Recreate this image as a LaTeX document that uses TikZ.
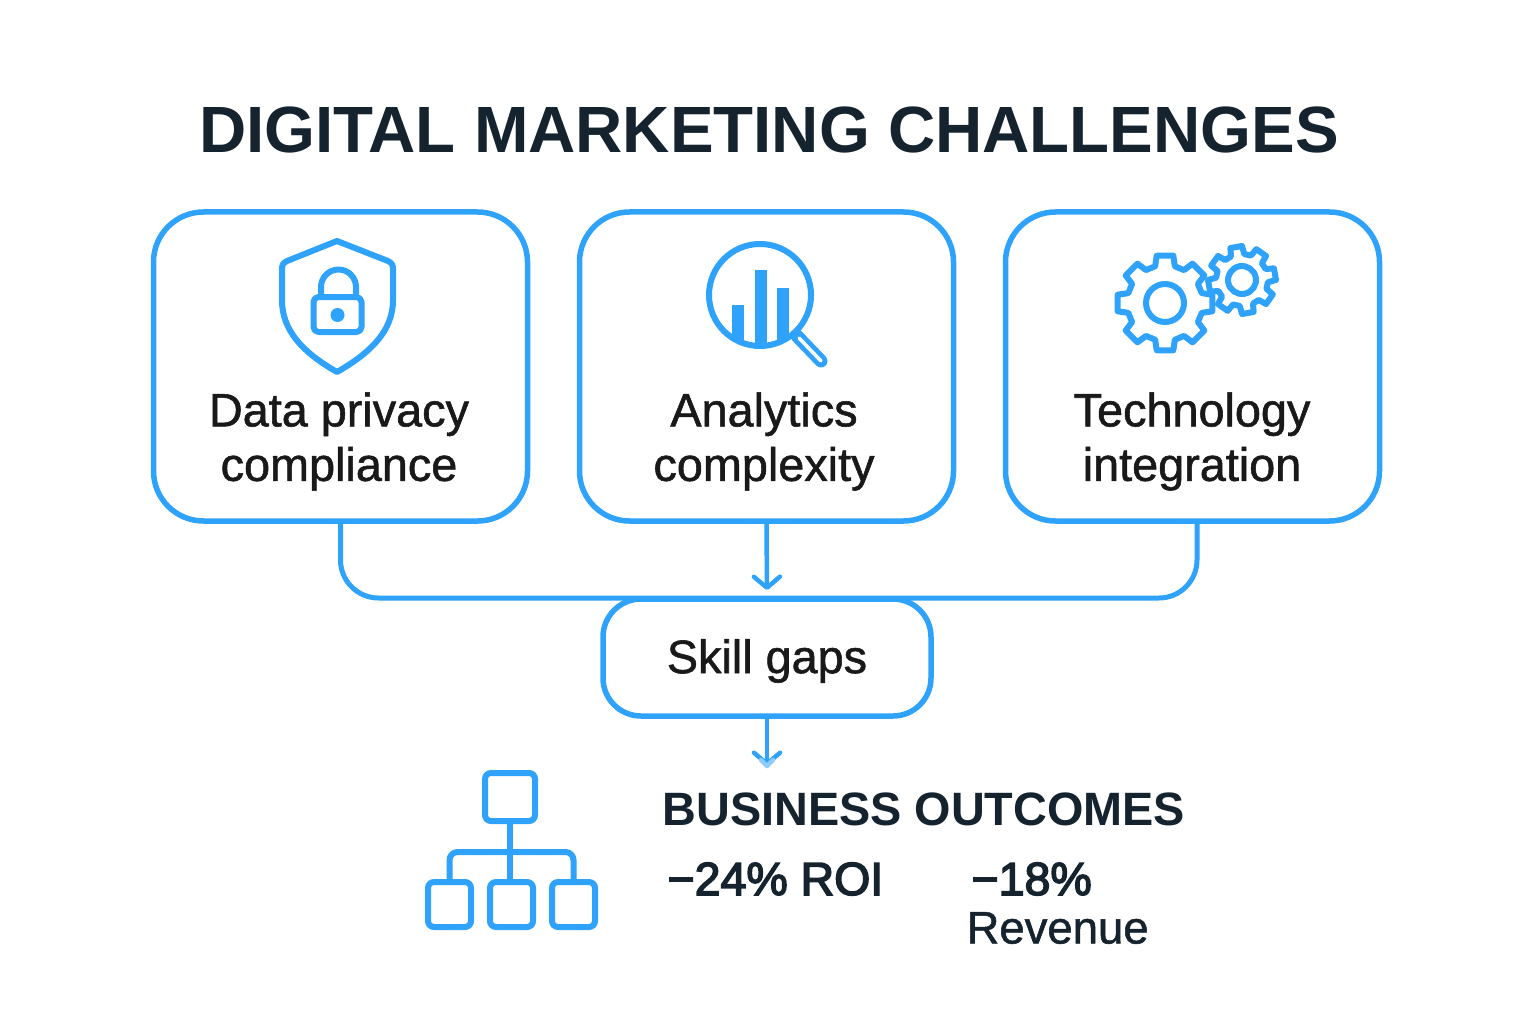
\documentclass[tikz,border=0pt]{standalone}
\usepackage{fontspec}
\setmainfont{Liberation Sans}
\usetikzlibrary{arrows.meta, positioning}
\definecolor{skyline}{HTML}{2FA2FB}
\definecolor{skyfade}{HTML}{8FCBFC}
\definecolor{inkdark}{HTML}{14232E}
\newfontfamily\mediumfont[FakeBold=1.2]{Liberation Sans}
\newfontfamily\heavyfont[FakeBold=3.2]{Liberation Sans}
\newcommand{\gearshape}[3]{% tooth radius, root radius, half width
  \draw[icon] (-#3-5:#2) foreach \a in {0,45,...,315} {
    -- ({\a-#3-5}:#2) -- ({\a-#3}:#1) -- ({\a+#3}:#1) -- ({\a+#3+5}:#2)} -- cycle;
}
\begin{document}
\begin{tikzpicture}[x=1pt, y=-1pt, node distance = 46.5pt and 46.5pt]
        \tikzstyle{card} = [draw = skyline, line width = 5.5pt, rounded corners = 50pt, minimum width = 374pt, minimum height = 309pt]
        \tikzstyle{cardtext} = [align = center, text = black!90, font = \mediumfont\fontsize{46.8}{54.5}\selectfont]
        \tikzstyle{figure} = [anchor = west, text = inkdark, font = \heavyfont\fontsize{46.5}{50}\selectfont]
        \tikzstyle{icon} = [draw = skyline, line width = 6pt, line join = round, line cap = round]
        \tikzstyle{connect} = [draw = skyline, line width = 5pt, line cap = round]
        \tikzstyle{flow} = [draw = skyline, line width = 4.5pt, line cap = round, -{Straight Barb[length = 11pt, width = 26pt, round]}]
        \tikzstyle{tree} = [draw = skyline, line width = 6pt, rounded corners = 6pt, inner sep = 0pt]
        \useasboundingbox (0,0) rectangle (1536,1024);
        \node[text = inkdark, font = \bfseries\fontsize{65.4}{70}\selectfont] (title) at (769,130) {DIGITAL MARKETING CHALLENGES};
        \node[card] (privacy) at (340.5,366.5) {};
        \node[card, right=of privacy] (analytics) {};
        \node[card, right=of analytics] (technology) {};
        \node[cardtext] (privacytext) at (339,441.5) {Data privacy\\compliance};
        \node[cardtext] (analyticstext) at (764,441.5) {Analytics\\complexity};
        \node[cardtext] (technologytext) at (1192,441.5) {Technology\\integration};
        \node[card, rounded corners = 38pt, minimum width = 328pt, minimum height = 117pt] (skills) at (767,657.5) {};
        \node[cardtext] (skillstext) at (767,661) {Skill gaps};
        \coordinate (busleft) at (340.5,598);
        \coordinate (busright) at (1197,598);
        \coordinate (analyticsend) at (767,590);
        \coordinate (skillsend) at (767,766);
        \draw[connect, rounded corners = 38pt] (privacy.south) -- (busleft) -- (busright) -- (busright |- technology.south);
        \draw[flow] (analytics.south) -- (analyticsend);
        \draw[flow] (skills.south) -- (skillsend);
        \draw[draw = skyfade, line width = 4.5pt, line cap = round, line join = round] ([shift = {(-6,-6)}]skillsend) -- (skillsend) -- ([shift = {(6,-6)}]skillsend);
        % shield and lock
        \draw[icon] (337,241) -- (388,261) .. controls (392,263) and (393,265) .. (393,269) -- (393,300)
          .. controls (393,330) and (372,352) .. (337,372) .. controls (302,352) and (282,330) .. (282,300)
          -- (282,269) .. controls (282,265) and (283,263) .. (287,261) -- cycle;
        \draw[icon, rounded corners = 5pt] (313.5,297) rectangle (361.5,332);
        \draw[icon] (321,297) -- (321,287) arc[start angle = 180, end angle = 360, x radius = 17.5, y radius = 17.5] -- (356,297);
        \fill[skyline] (337.5,315) circle (7);
        % magnifier and bars
        \begin{scope}
          \clip (760,295) circle (51);
          \fill[skyline] (732,305) rectangle (744,350);
          \fill[skyline] (755,270) rectangle (767,350);
          \fill[skyline] (777,288) rectangle (789,350);
        \end{scope}
        \draw[icon] (760,295) circle (51);
        \draw[skyline, line width = 13pt, line cap = round] (797,336) -- (821,361);
        \draw[white, line width = 3.5pt, line cap = round] (799,338) -- (821,361);
        % gears
        \begin{scope}[shift = {(1165,303)}]
          \gearshape{48}{38}{10}
          \draw[icon] (0,0) circle (19);
        \end{scope}
        \begin{scope}[shift = {(1242,280)}, rotate = 10]
          \gearshape{34}{26}{10}
          \draw[icon] (0,0) circle (14);
        \end{scope}
        % outcomes
        \node[tree, minimum width = 50pt, minimum height = 48pt] (rootbox) at (510,797) {};
        \node[tree, minimum width = 43pt, minimum height = 45pt] (leafa) at (449.5,904.5) {};
        \node[tree, minimum width = 43pt, minimum height = 45pt] (leafb) at (511.5,904.5) {};
        \node[tree, minimum width = 43pt, minimum height = 45pt] (leafc) at (573.5,904.5) {};
        \draw[icon, line cap = butt] (rootbox.south) -- (leafb.north -| rootbox.south);
        \draw[icon, line cap = butt, rounded corners = 8pt] (leafa.north) |- (510,852) -| (leafc.north);
        \node[anchor = west, text = inkdark, font = \bfseries\fontsize{46.8}{50}\selectfont] (outcomes) at (659,809) {BUSINESS OUTCOMES};
        \node[figure] (roi) at (664,879) {−24\% ROI};
        \node[figure] (minus) at (968,879) {−18\%};
        \node[anchor = west, text = inkdark, font = \mediumfont\fontsize{45.5}{50}\selectfont] (revenue) at (963,928) {Revenue};
      \end{tikzpicture}
\end{document}
